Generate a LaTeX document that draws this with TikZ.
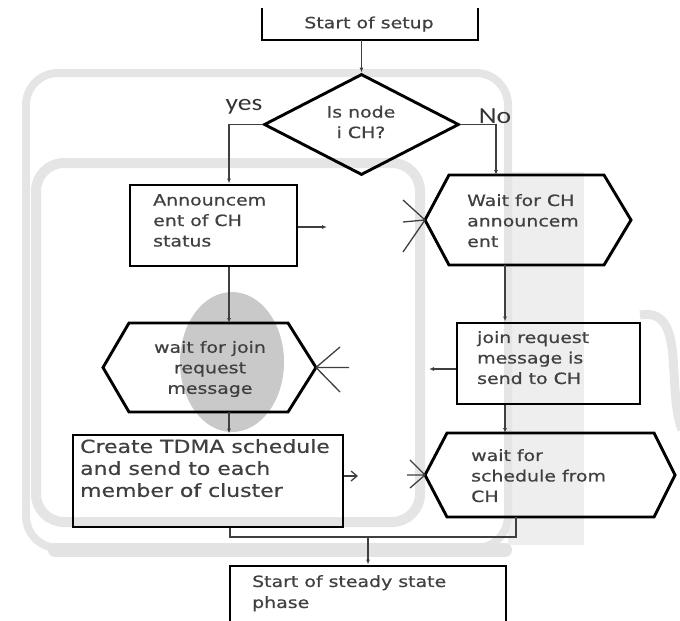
\documentclass[tikz,border=0pt]{standalone}
\usepackage{fontspec}
\setmainfont{DejaVu Sans}
\newfontfamily\boxfont[FakeStretch=1.22,FakeBold=0.6]{DejaVu Sans}
\newfontfamily\labfont[FakeStretch=1.2]{Carlito}
\usetikzlibrary{arrows.meta,calc,shapes.geometric}
\definecolor{txtgray}{HTML}{404040}
\definecolor{linegray}{HTML}{3F3F3F}
\begin{document}
\begin{tikzpicture}[x=1pt,y=-1pt,
  holder/.style={draw=none,inner sep=0pt,outer sep=0pt},
  box/.style={draw=black,line width=2.9pt,line join=miter},
  txt/.style={inner sep=0pt,anchor=north west,align=left,text=txtgray,
    font=\boxfont\fontsize{15.5}{20.5}\selectfont},
  ctxt/.style={txt,anchor=center,align=center},
  conn/.style={draw=linegray,line width=1.3pt},
  arr/.style={conn,-{Latex[length=5pt,width=4pt]}},
  foot/.style={draw=linegray,line width=1.3pt},
  lab/.style={inner sep=0pt,text=black!80,font=\labfont\fontsize{23}{26}\selectfont},
  bgline/.style={draw=gray!20,line width=8pt}
]
\useasboundingbox (0,0) rectangle (680,621);
\clip (0,0) rectangle (680,621);

% ---------- background shading ----------
\fill[gray!13] (508,172) rectangle (584,545);
\draw[bgline,rounded corners=32pt] (26,73) rectangle (508,548);
\draw[draw=gray!22,line width=14pt,line cap=round] (55,550) -- (505,550);
\draw[bgline,line width=10pt,rounded corners=28pt] (36,163) rectangle (420,522);
\draw[draw=gray!20,line width=9pt] (640,315) to[out=10,in=110] (682,430);
\fill[gray!42] (232,362) ellipse [x radius=52pt,y radius=70pt];

% ---------- nodes ----------
\node[holder,minimum width=216pt,minimum height=32pt] (start) at (370,24) {};
\draw[box] (start.north west) -- (start.south west) -- (start.south east) -- (start.north east);
\node[ctxt] (starttxt) at (369,24) {Start of setup};

\node[diamond,draw=black,line width=2.9pt,inner sep=0pt,minimum width=195pt,minimum height=101pt] (dia) at (361.5,124.5) {};
\node[ctxt] (diatxt) at (361,122) {Is node\\ i CH?};

\node[lab] (yes) at (244,107) {yes};
\node[lab] (no) at (495,116) {No};

\node[box,inner sep=0pt,minimum width=167pt,minimum height=81pt] (ann) at (213.5,225.5) {};
\node[txt] (anntxt) at (153,194) {Announcem\\ent of CH\\status};

\node[holder,minimum width=206pt,minimum height=90pt] (h1) at (528,220) {};
\draw[box] (h1.west) -- ($(h1.north west)+(24,0)$) -- ($(h1.north east)+(-27,0)$) -- (h1.east)
  -- ($(h1.south east)+(-27,0)$) -- ($(h1.south west)+(24,0)$) -- cycle;
\node[txt] (h1txt) at (467,194) {Wait for CH\\announcem\\ent};

\node[holder,minimum width=213pt,minimum height=89pt] (h2) at (209.5,367.5) {};
\draw[box] (h2.west) -- ($(h2.north west)+(26,0)$) -- ($(h2.north east)+(-28,0)$) -- (h2.east)
  -- ($(h2.south east)+(-28,0)$) -- ($(h2.south west)+(26,0)$) -- cycle;
\node[ctxt] (h2txt) at (210,369) {wait for join\\request\\message};

\node[box,inner sep=0pt,minimum width=183pt,minimum height=81pt] (join) at (548.5,363.5) {};
\node[txt] (jointxt) at (477,331) {join request\\message is\\send to CH};

\node[box,inner sep=0pt,minimum width=270pt,minimum height=92pt] (tdma) at (208,481) {};
\node[txt,font=\boxfont\fontsize{18}{22}\selectfont,text=black!75] (tdmatxt) at (80,439)
  {Create TDMA schedule\\and send to each\\member of cluster};

\node[holder,minimum width=250pt,minimum height=84pt] (h3) at (550,475) {};
\draw[box] (h3.west) -- ($(h3.north west)+(22,0)$) -- ($(h3.north east)+(-21,0)$) -- (h3.east)
  -- ($(h3.south east)+(-21,0)$) -- ($(h3.south west)+(22,0)$) -- cycle;
\node[txt] (h3txt) at (471,449) {wait for\\schedule from\\CH};

\node[box,inner sep=0pt,minimum width=276pt,minimum height=80pt] (steady) at (368,606) {};
\node[txt,font=\boxfont\fontsize{15.5}{21}\selectfont] (steadytxt) at (252,575) {Start of steady state\\phase};

% ---------- connectors ----------
\draw[arr] (dia.north |- start.south) -- (dia.north);
\draw[arr] (dia.west) -| (ann.north -| 229,0);
\draw[arr] (dia.east) -| ($(h1.north)+(-32,0)$);
\coordinate (a1) at (327,227);
\draw[arr] (ann.east |- a1) -- (a1);
\coordinate (f1a) at (403,200);
\coordinate (f1b) at (403,252);
\coordinate (f1c) at (403,222);
\draw[foot] (f1a) -- (h1.west) (f1b) -- (h1.west) (f1c) -- (h1.west);

\draw[arr] (ann.south -| 229,0) -- (h2.north -| 229,0);
\draw[arr] ($(h1.south)+(-23,0)$) -- (join.north -| 505,0);

\coordinate (f2a) at (340,347);
\coordinate (f2b) at (340,392);
\coordinate (f2c) at (349,367.5);
\draw[foot] (h2.east) -- (f2a) (h2.east) -- (f2b) (h2.east) -- (f2c);

\coordinate (a2) at (429,369);
\draw[arr] (join.west |- a2) -- (a2);

\draw[arr] (h2.south -| 229,0) -- (tdma.north -| 229,0);
\draw[arr] (join.south -| 505,0) -- (h3.north -| 505,0);

\coordinate (a3) at (358,476);
\draw[conn,-{Straight Barb[length=6pt,width=10pt]}] (tdma.east |- a3) -- (a3);
\coordinate (f3a) at (410,460);
\coordinate (f3b) at (410,488);
\coordinate (f3c) at (407,475);
\draw[foot] (f3a) -- (h3.west) (f3b) -- (h3.west) (f3c) -- (h3.west);

\coordinate (m1) at (230,537);
\coordinate (m2) at (516,537);
\coordinate (m3) at (368,537);
\draw[conn] (tdma.south -| m1) -- (m1) -- (m2) -- (h3.south -| m2);
\draw[arr] (m3) -- (steady.north);
\end{tikzpicture}
\end{document}
